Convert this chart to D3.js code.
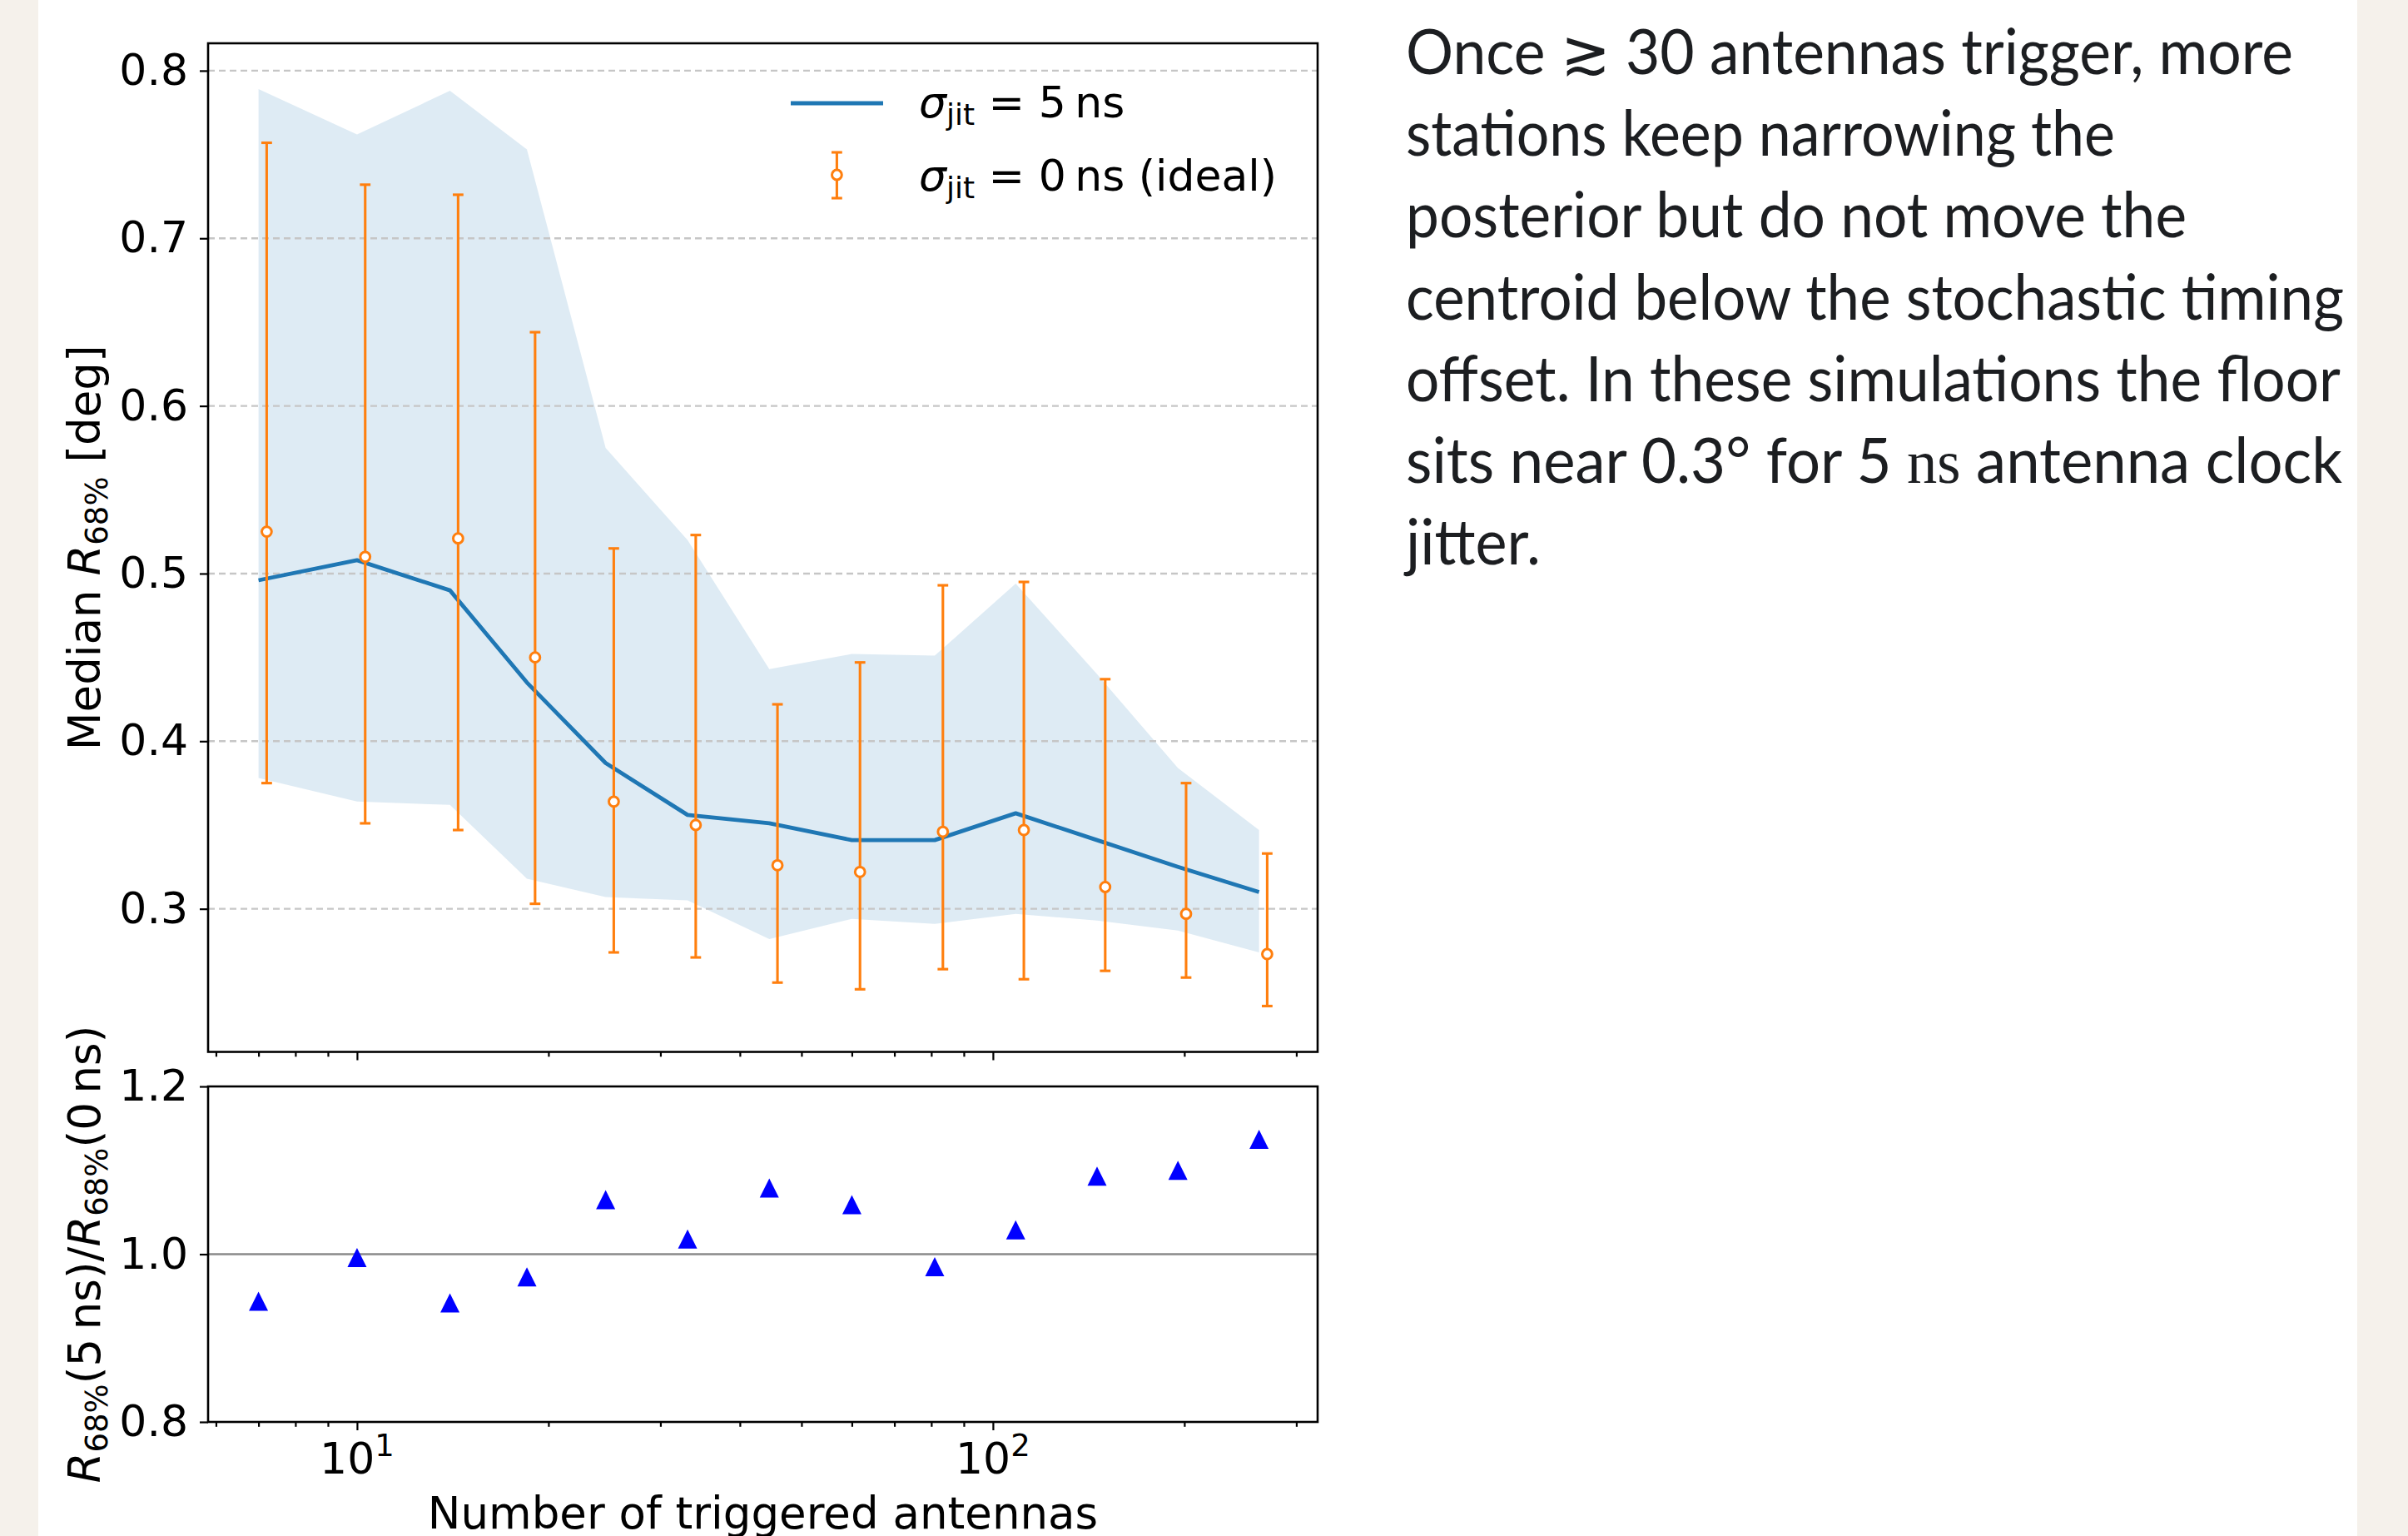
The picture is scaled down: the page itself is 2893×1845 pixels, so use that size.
<!DOCTYPE html>
<html>
<head>
<meta charset="utf-8">
<script src="https://cdn.jsdelivr.net/npm/d3@7"></script>
<style>
  html, body { margin: 0; padding: 0; background: #f5f1eb; }
  svg { display: block; }
</style>
</head>
<body>
<svg id="fig" width="2893" height="1845"></svg>
<script>
/* ── 1. Data ─────────────────────────────────────────────── */

// bin centres: number of triggered antennas
const nAntennas = [7.0, 10.0, 14.0, 18.5, 24.6, 33.1, 44.5, 60.0, 81.0, 108.6, 145.8, 195.4, 262.1];

// sigma_jit = 5 ns : median R68 and 16-84 % band
const jitMedian = [0.496, 0.508, 0.490, 0.435, 0.387, 0.356, 0.351, 0.341, 0.341, 0.357, 0.341, 0.325, 0.310];
const jitLow    = [0.378, 0.364, 0.362, 0.318, 0.307, 0.305, 0.282, 0.294, 0.291, 0.297, 0.293, 0.287, 0.274];
const jitHigh   = [0.789, 0.762, 0.788, 0.753, 0.575, 0.520, 0.443, 0.452, 0.451, 0.494, 0.440, 0.384, 0.347];

// sigma_jit = 0 ns (ideal) : median and error bar ends
const idealMedian = [0.525, 0.510, 0.521, 0.450, 0.364, 0.350, 0.326, 0.322, 0.346, 0.347, 0.313, 0.297, 0.273];
const idealLow    = [0.375, 0.351, 0.347, 0.303, 0.274, 0.271, 0.256, 0.252, 0.264, 0.258, 0.263, 0.259, 0.242];
const idealHigh   = [0.757, 0.732, 0.726, 0.644, 0.515, 0.523, 0.422, 0.447, 0.493, 0.495, 0.437, 0.375, 0.333];

// ratio R68(5 ns) / R68(0 ns)
const ratio = [0.944, 0.996, 0.942, 0.973, 1.065, 1.018, 1.079, 1.059, 0.985, 1.029, 1.093, 1.100, 1.137];

const yTicksTop    = [0.3, 0.4, 0.5, 0.6, 0.7, 0.8];
const yTicksBottom = [0.8, 1.0, 1.2];
const xMajorTicks  = [10, 100];
const xMinorTicks  = [6, 7, 8, 9, 20, 30, 40, 50, 60, 70, 80, 90, 200, 300];

const noteLines = [
  'Once \u2273 30 antennas trigger, more',
  'stations keep narrowing the',
  'posterior but do not move the',
  'centroid below the stochastic timing',
  'offset. In these simulations the floor',
  'sits near 0.3\u00b0 for 5 ns antenna clock',
  'jitter.'
];

/* ── 2. Layout ───────────────────────────────────────────── */

const W = 2893, H = 1845;
const sheet  = { x0: 46, x1: 2832 };
const ax     = { left: 250, right: 1583 };
const topAx  = { top: 52, bottom: 1263.5 };
const botAx  = { top: 1305, bottom: 1708 };
const dodge  = 1.03;        // ideal points are nudged right in log space
const FONT   = '"DejaVu Sans", sans-serif';
const C_BLUE = '#1f77b4', C_ORANGE = '#ff7f0e';

// note text: left edge, first baseline, leading, rendered width of each line
const note = { x: 1689, y0: 89, lead: 98.2, widths: [1066, 852, 938, 1127, 1123, 1125, 162] };

/* ── 3. Scales (matplotlib style 5 % auto margins) ───────── */

const lx = d3.extent(nAntennas.concat(nAntennas.map(d => d * dodge))).map(Math.log10);
const lpad = (lx[1] - lx[0]) * 0.05;
const x = d3.scaleLog()
  .domain([10 ** (lx[0] - lpad), 10 ** (lx[1] + lpad)])
  .range([ax.left, ax.right]);

const ye = d3.extent(jitLow.concat(jitHigh, idealLow, idealHigh));
const ypad = (ye[1] - ye[0]) * 0.05;
const y = d3.scaleLinear()
  .domain([ye[0] - ypad, ye[1] + ypad])
  .range([topAx.bottom, topAx.top]);

const yr = d3.scaleLinear().domain([0.8, 1.2]).range([botAx.bottom, botAx.top]);

/* ── 4. Drawing ──────────────────────────────────────────── */

const svg = d3.select('#fig');

svg.append('rect').attr('width', W).attr('height', H).attr('fill', '#f5f1eb');
svg.append('rect')
  .attr('x', sheet.x0).attr('width', sheet.x1 - sheet.x0)
  .attr('height', H).attr('fill', '#ffffff');

const idx = d3.range(nAntennas.length);

// band
svg.append('path')
  .datum(idx)
  .attr('d', d3.area()
    .x(i => x(nAntennas[i]))
    .y0(i => y(jitLow[i]))
    .y1(i => y(jitHigh[i])))
  .attr('fill', C_BLUE)
  .attr('fill-opacity', 0.15);

// grid (top panel only)
svg.append('g')
  .selectAll('line')
  .data(yTicksTop)
  .join('line')
  .attr('x1', ax.left).attr('x2', ax.right)
  .attr('y1', d => y(d)).attr('y2', d => y(d))
  .attr('stroke', '#c6c6c6')
  .attr('stroke-width', 2.4)
  .attr('stroke-dasharray', '8,5');

// median line for 5 ns
svg.append('path')
  .datum(idx)
  .attr('d', d3.line().x(i => x(nAntennas[i])).y(i => y(jitMedian[i])))
  .attr('fill', 'none')
  .attr('stroke', C_BLUE)
  .attr('stroke-width', 4.8)
  .attr('stroke-linejoin', 'round');

// error bars for 0 ns
function errorBar(g, cx, yTop, yBot, yMid) {
  g.append('line')
    .attr('x1', cx).attr('x2', cx).attr('y1', yTop).attr('y2', yBot)
    .attr('stroke', C_ORANGE).attr('stroke-width', 3.1);
  [yTop, yBot].forEach(cy => {
    g.append('line')
      .attr('x1', cx - 6.4).attr('x2', cx + 6.4).attr('y1', cy).attr('y2', cy)
      .attr('stroke', C_ORANGE).attr('stroke-width', 3.1);
  });
  g.append('circle')
    .attr('cx', cx).attr('cy', yMid).attr('r', 5.9)
    .attr('fill', '#ffffff')
    .attr('stroke', C_ORANGE).attr('stroke-width', 3);
}

const eb = svg.append('g');
idx.forEach(i => {
  errorBar(eb, x(nAntennas[i] * dodge), y(idealHigh[i]), y(idealLow[i]), y(idealMedian[i]));
});

// ratio panel
svg.append('line')
  .attr('x1', ax.left).attr('x2', ax.right)
  .attr('y1', yr(1)).attr('y2', yr(1))
  .attr('stroke', '#8a8a8a').attr('stroke-width', 2.6);

const tri = 23;
svg.append('g')
  .selectAll('path')
  .data(idx)
  .join('path')
  .attr('transform', i => `translate(${x(nAntennas[i])},${yr(ratio[i])})`)
  .attr('d', `M0,${-tri / 2}L${tri / 2},${tri / 2}L${-tri / 2},${tri / 2}Z`)
  .attr('fill', '#0000ff');

/* ── 5. Axes ─────────────────────────────────────────────── */

function styleAxis(g) {
  g.select('.domain').remove();
  g.attr('font-family', null).attr('font-size', null);
  g.selectAll('.tick line').attr('stroke', '#000').attr('stroke-width', 2.2);
  g.selectAll('.tick text')
    .attr('fill', '#000')
    .style('font-family', FONT)
    .style('font-size', '52px');
}

svg.append('g')
  .attr('transform', `translate(${ax.left},0)`)
  .call(d3.axisLeft(y).tickValues(yTicksTop).tickSize(10).tickPadding(14).tickFormat(d3.format('.1f')))
  .call(styleAxis);

svg.append('g')
  .attr('transform', `translate(${ax.left},0)`)
  .call(d3.axisLeft(yr).tickValues(yTicksBottom).tickSize(10).tickPadding(14).tickFormat(d3.format('.1f')))
  .call(styleAxis);

[topAx.bottom, botAx.bottom].forEach(yb => {
  const visibleMinor = xMinorTicks.filter(d => d >= x.domain()[0] && d <= x.domain()[1]);
  svg.append('g')
    .attr('transform', `translate(0,${yb})`)
    .call(d3.axisBottom(x).tickValues(visibleMinor).tickSize(5.8).tickFormat(''))
    .call(styleAxis);
  svg.append('g')
    .attr('transform', `translate(0,${yb})`)
    .call(d3.axisBottom(x).tickValues(xMajorTicks).tickSize(10).tickFormat(''))
    .call(styleAxis);
});

// 10^n labels on the shared log axis
const xl = svg.append('g')
  .selectAll('text')
  .data(xMajorTicks)
  .join('text')
  .attr('x', d => x(d))
  .attr('y', botAx.bottom + 62)
  .attr('text-anchor', 'middle')
  .style('font-family', FONT)
  .style('font-size', '52px');
xl.append('tspan').text('10');
xl.append('tspan').attr('dy', -21).style('font-size', '37px').text(d => Math.round(Math.log10(d)));

// spines
[topAx, botAx].forEach(a => {
  svg.append('rect')
    .attr('x', ax.left).attr('y', a.top)
    .attr('width', ax.right - ax.left).attr('height', a.bottom - a.top)
    .attr('fill', 'none').attr('stroke', '#000').attr('stroke-width', 2.6);
});

// axis labels
function sub(t, s) {
  t.append('tspan').style('font-style', 'italic').text('R');
  t.append('tspan').attr('dy', 9).style('font-size', '37px').text('68%');
  t.append('tspan').attr('dy', -9).text(s);
}

const yl1 = svg.append('text')
  .attr('transform', `translate(120,${(topAx.top + topAx.bottom) / 2}) rotate(-90)`)
  .attr('text-anchor', 'middle')
  .style('font-family', FONT).style('font-size', '53px');
yl1.append('tspan').text('Median ');
sub(yl1, ' [deg]');

const yl2 = svg.append('text')
  .attr('transform', `translate(120,${(botAx.top + botAx.bottom) / 2}) rotate(-90)`)
  .attr('text-anchor', 'middle')
  .style('font-family', FONT).style('font-size', '53px');
sub(yl2, '(5\u2009ns)/');
sub(yl2, '(0\u2009ns)');

svg.append('text')
  .attr('x', (ax.left + ax.right) / 2)
  .attr('y', 1836)
  .attr('text-anchor', 'middle')
  .style('font-family', FONT).style('font-size', '53px')
  .text('Number of triggered antennas');

/* ── 6. Legend (no frame) ────────────────────────────────── */

const leg = svg.append('g').style('font-family', FONT).style('font-size', '52px');
leg.append('line')
  .attr('x1', 950).attr('x2', 1061).attr('y1', 124).attr('y2', 124)
  .attr('stroke', C_BLUE).attr('stroke-width', 4.8);
errorBar(leg, 1005.4, 183, 238, 210);

[['5\u2009ns', 141], ['0\u2009ns (ideal)', 229]].forEach(([rest, by]) => {
  const t = leg.append('text').attr('x', 1104).attr('y', by);
  t.append('tspan').style('font-style', 'italic').text('\u03c3');
  t.append('tspan').attr('dy', 9).style('font-size', '36px').text('jit');
  t.append('tspan').attr('dy', -9).text(' = ' + rest);
});

/* ── 7. Side note ────────────────────────────────────────── */

const nt = svg.append('g')
  .style('font-family', 'Lato, "Open Sans", sans-serif')
  .style('font-size', '75px')
  .attr('fill', '#1c1e21');

noteLines.forEach((line, i) => {
  const t = nt.append('text')
    .attr('x', note.x)
    .attr('y', note.y0 + i * note.lead)
    .attr('textLength', note.widths[i])
    .attr('lengthAdjust', 'spacingAndGlyphs');
  line.split(/\b(ns)\b/).forEach(part => {
    const s = t.append('tspan').text(part);
    if (part === 'ns') s.style('font-family', '"Liberation Serif", serif');
  });
});
</script>
</body>
</html>
